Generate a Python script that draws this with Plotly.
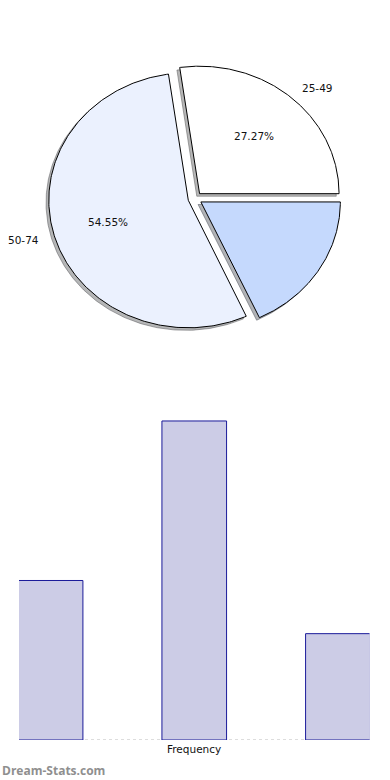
import numpy as np
import plotly.graph_objects as go

# ---- data ----
age_groups = ["25-49", "50-74", ""]
frequency = [3, 6, 2]
slice_colors = ["#ffffff", "#ebf1fe", "#c5d9fd"]
bar_fill = "#cccce6"
bar_line = "#1a1a99"
axis_title = "Frequency"
watermark = "Dream-Stats.com"

EXPLODE = 0.05
PCT_DIST = 0.6
LABEL_DIST = 1.1
SHADOW_OFF = (-0.02, -0.02)
FONT = "DejaVu Sans"

total = sum(frequency)
fractions = [v / total for v in frequency]

fig = go.Figure()

# compute wedge geometry from data
wedges = []
start = 0.0
for lab, frac, col in zip(age_groups, fractions, slice_colors):
    t1 = start * 2 * np.pi
    t2 = (start + frac) * 2 * np.pi
    tm = (t1 + t2) / 2
    cx, cy = EXPLODE * np.cos(tm), EXPLODE * np.sin(tm)
    th = np.linspace(t1, t2, 240)
    xs = np.concatenate([[cx], cx + np.cos(th), [cx]])
    ys = np.concatenate([[cy], cy + np.sin(th), [cy]])
    wedges.append(dict(lab=lab, frac=frac, col=col, xs=xs, ys=ys, cx=cx, cy=cy, tm=tm))
    start += frac


def shade(hexcol, a):
    h = hexcol.lstrip("#")
    r, g, b = (int(h[i:i + 2], 16) for i in (0, 2, 4))
    return "rgba(%d,%d,%d,%.2f)" % (r * 0.3, g * 0.3, b * 0.3, a)


# shadows (beneath everything)
for w in wedges:
    fig.add_trace(go.Scatter(
        x=w["xs"] + SHADOW_OFF[0], y=w["ys"] + SHADOW_OFF[1],
        mode="lines", fill="toself", fillcolor=shade(w["col"], 0.4),
        line=dict(color=shade(w["col"], 0.45), width=1),
        xaxis="x2", yaxis="y2", hoverinfo="skip", showlegend=False))

# wedges
for w in wedges:
    fig.add_trace(go.Scatter(
        x=w["xs"], y=w["ys"], mode="lines", fill="toself", fillcolor=w["col"],
        line=dict(color="#000000", width=1),
        xaxis="x2", yaxis="y2", hoverinfo="skip", showlegend=False))

annotations = []
for w in wedges:
    if not w["lab"]:
        continue
    c, s = np.cos(w["tm"]), np.sin(w["tm"])
    annotations.append(dict(
        x=w["cx"] + LABEL_DIST * c, y=w["cy"] + LABEL_DIST * s, xref="x2", yref="y2",
        text=w["lab"], showarrow=False, xanchor="left" if c > 0 else "right",
        yanchor="middle", font=dict(family=FONT, size=10.5, color="#111111")))
    annotations.append(dict(
        x=w["cx"] + PCT_DIST * c, y=w["cy"] + PCT_DIST * s, xref="x2", yref="y2",
        text="%.2f%%" % (w["frac"] * 100), showarrow=False, xanchor="center",
        yanchor="middle", font=dict(family=FONT, size=10.5, color="#111111")))

# bars
fig.add_trace(go.Bar(
    x=list(range(len(frequency))), y=frequency, width=0.45,
    marker=dict(color=bar_fill, line=dict(color=bar_line, width=1)),
    hoverinfo="skip", showlegend=False))

annotations.append(dict(
    x=0.5, y=(780 - 749) / 780, xref="x domain", yref="paper", text=axis_title,
    showarrow=False, xanchor="center", yanchor="middle",
    font=dict(family=FONT, size=10.5, color="#111111")))
annotations.append(dict(
    x=0, y=(780 - 770) / 780, xref="paper", yref="paper", text="<b>" + watermark + "</b>",
    showarrow=False, xanchor="left", yanchor="middle",
    font=dict(family="Open Sans", size=12, color="#8f8f8f")))

RX, RY = 139.5, 127.5
CX, CY = 195.0, 198.5
PIE_H = 400.0

fig.update_layout(
    width=390, height=780,
    margin=dict(l=0, r=0, t=0, b=0),
    paper_bgcolor="white", plot_bgcolor="rgba(0,0,0,0)",
    showlegend=False, hovermode=False,
    xaxis=dict(domain=[19 / 390, 369.5 / 390], range=[-0.22, 2.22], visible=False,
               fixedrange=True),
    yaxis=dict(domain=[40 / 780, 380 / 780], range=[0, 340 / 53.17], visible=False,
               fixedrange=True),
    xaxis2=dict(domain=[0, 1], range=[-CX / RX, (390 - CX) / RX], anchor="y2",
                visible=False, fixedrange=True),
    yaxis2=dict(domain=[1 - PIE_H / 780, 1], range=[-(PIE_H - CY) / RY, CY / RY],
                anchor="x2", visible=False, fixedrange=True),
    annotations=annotations,
    shapes=[dict(type="line", xref="x domain", yref="y", x0=0, x1=1, y0=0, y1=0,
                 line=dict(color="#bbbbbb", width=1, dash="dot"), layer="below")],
)

fig.write_html("out.html")
